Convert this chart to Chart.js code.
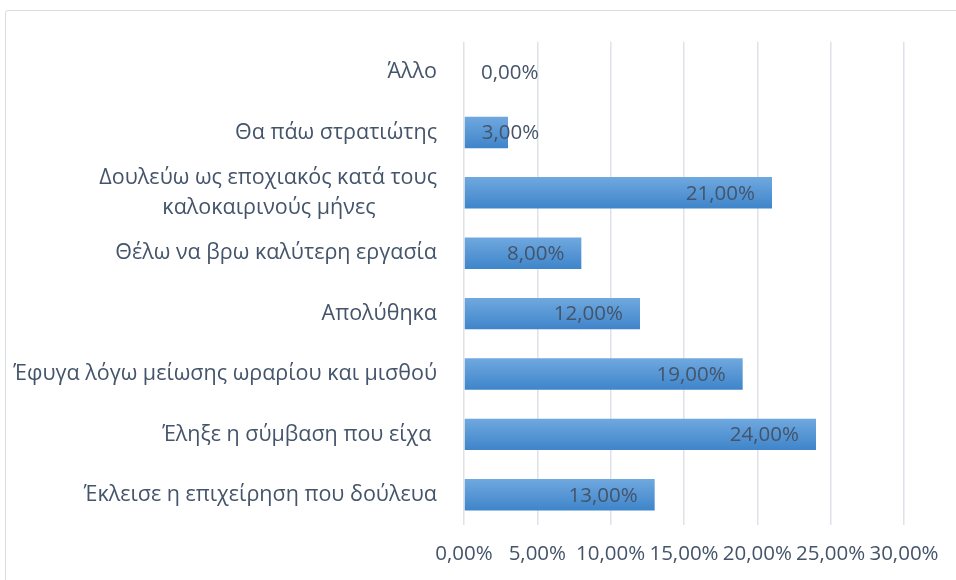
<!DOCTYPE html>
<html>
<head>
<meta charset="utf-8">
<script src="https://cdn.jsdelivr.net/npm/chart.js@4.4.1/dist/chart.umd.min.js"></script>
<style>
html, body { margin: 0; padding: 0; background: #fff; }
#wrap { position: relative; width: 956px; height: 580px; overflow: hidden; }
#frame { position: absolute; left: 5px; top: 10px; width: 1000px; height: 640px;
         border: 1px solid #d9dce3; border-radius: 3px; box-sizing: border-box; }
canvas { position: absolute; left: 0; top: 0; }
</style>
</head>
<body>
<div id="wrap">
  <div id="frame"></div>
  <canvas id="myChart" width="956" height="580"></canvas>
</div>
<script>
// answers, listed top to bottom as they appear on the chart
const categories = [
  ['Άλλο'],
  ['Θα πάω στρατιώτης'],
  ['Δουλεύω ως εποχιακός κατά τους', 'καλοκαιρινούς μήνες'],
  ['Θέλω να βρω καλύτερη εργασία'],
  ['Απολύθηκα'],
  ['Έφυγα λόγω μείωσης ωραρίου και μισθού'],
  ['Έληξε η σύμβαση που είχα '],
  ['Έκλεισε η επιχείρηση που δούλευα']
]
const percentages = [0, 3, 21, 8, 12, 19, 24, 13]
const axisMin = 0
const axisMax = 30
const axisStep = 5

const FONT_FAMILY = '"Open Sans", "Noto Sans", sans-serif'
const FONT_SIZE = 20.5
const LABEL_SIZE = 21.5
const TEXT_COLOR = '#44546a'

const fmtPct = v => v.toFixed(2).replace('.', ',') + '%'

// wrapped labels: pad shorter lines so the block looks centred when right-aligned
const measureCtx = document.createElement('canvas').getContext('2d')
measureCtx.font = LABEL_SIZE + 'px ' + FONT_FAMILY
const centerLines = lines => {
  if (lines.length < 2) return lines[0]
  const widths = lines.map(l => measureCtx.measureText(l).width)
  const maxW = Math.max(...widths)
  const spaceW = measureCtx.measureText(' ').width
  return lines.map((l, i) => l + ' '.repeat(Math.round((maxW - widths[i]) / 2 / spaceW)))
}
const labels = categories.map(centerLines)

// value text at the inside end of each bar, pushed right when the bar is too short
const valueLabels = {
  id: 'valueLabels',
  afterDatasetsDraw(chart) {
    const ctx = chart.ctx
    const meta = chart.getDatasetMeta(0)
    ctx.save()
    ctx.font = FONT_SIZE + 'px ' + FONT_FAMILY
    ctx.fillStyle = TEXT_COLOR
    ctx.textAlign = 'right'
    ctx.textBaseline = 'middle'
    meta.data.forEach((bar, i) => {
      const text = fmtPct(percentages[i])
      const w = ctx.measureText(text).width
      const x = Math.max(bar.x - 17, bar.base + 17 + w)
      ctx.fillText(text, x, bar.y + 1)
    })
    ctx.restore()
  }
}

let barFill = context => {
  const chart = context.chart
  if (!chart.chartArea || context.dataIndex === undefined) return '#5b9bd5'
  const y = chart.scales.y.getPixelForValue(context.dataIndex)
  const g = chart.ctx.createLinearGradient(0, y - 15.5, 0, y + 15.5)
  g.addColorStop(0, '#6fa8df')
  g.addColorStop(1, '#3f85ca')
  return g
}

let chart = new Chart('myChart', {
  type: 'bar',
  data: {
    labels: labels,
    datasets: [{
      data: percentages,
      backgroundColor: barFill,
      borderWidth: 0,
      barPercentage: 0.52,
      categoryPercentage: 1
    }]
  },
  options: {
    indexAxis: 'y',
    responsive: false,
    animation: false,
    layout: { padding: { top: 40, right: 52, left: 0, bottom: 0 } },
    plugins: {
      legend: { display: false },
      tooltip: { enabled: false }
    },
    scales: {
      x: {
        min: axisMin,
        max: axisMax,
        afterFit: scale => { scale.height = 55 },
        grid: { color: '#dfe2e9', lineWidth: 1.5, drawTicks: false },
        border: { display: false },
        ticks: {
          stepSize: axisStep,
          padding: 17,
          color: TEXT_COLOR,
          font: { family: FONT_FAMILY, size: FONT_SIZE },
          maxRotation: 0,
          autoSkip: false,
          callback: v => fmtPct(v)
        }
      },
      y: {
        afterFit: scale => { scale.width = 464 },
        grid: { display: false, drawTicks: false },
        border: { display: false },
        ticks: {
          padding: 27,
          color: TEXT_COLOR,
          font: { family: FONT_FAMILY, size: LABEL_SIZE, lineHeight: 1.38 },
          autoSkip: false
        }
      }
    }
  },
  plugins: [valueLabels]
})
</script>
</body>
</html>
